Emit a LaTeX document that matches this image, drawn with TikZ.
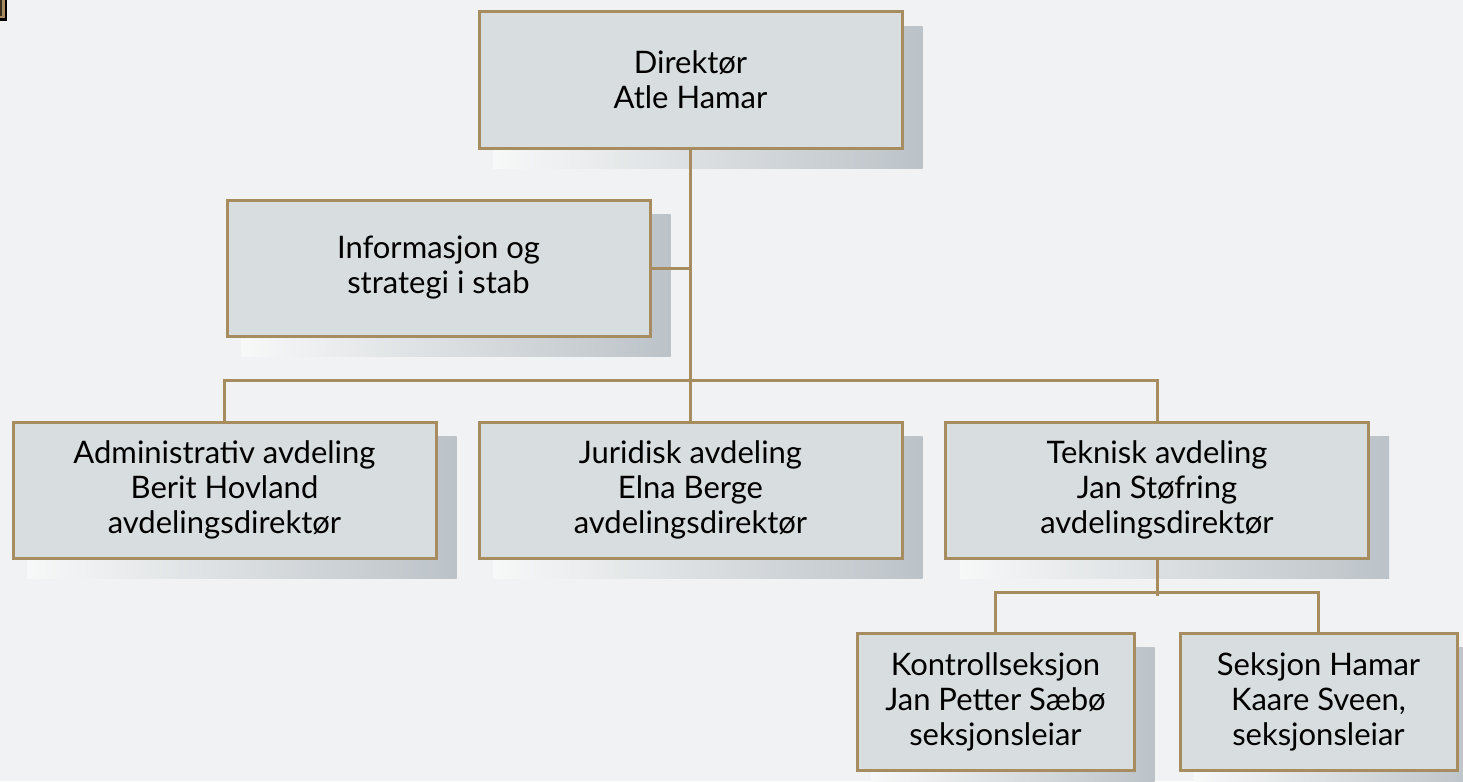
\documentclass[tikz,border=0pt]{standalone}
\usepackage{fontspec}
\setmainfont{Lato}
\usetikzlibrary{calc}
\definecolor{bg}{HTML}{F1F2F4}
\definecolor{boxfill}{HTML}{D8DDE0}
\definecolor{gold}{HTML}{A68C5F}
\definecolor{shadL}{HTML}{F7F8F8}
\definecolor{shadR}{HTML}{BCC3C8}
\definecolor{iconin}{HTML}{3A3020}
\tikzset{
  orgbox/.style={draw=gold, line width=3pt, fill=boxfill, minimum width=423pt, minimum height=136pt,
    align=center, inner sep=0pt, font=\fontsize{31}{35}\selectfont},
  subbox/.style={orgbox, minimum width=277pt, minimum height=137pt},
  link/.style={draw=gold, line width=3pt},
}
\newcommand{\boxshadow}[1]{%
  \shade[left color=shadL, right color=shadR]
    ($(#1.north west)+(16,16)$) rectangle ($(#1.south east)+(19,19)$);}
\begin{document}
\begin{tikzpicture}[x=1pt,y=-1pt]
\useasboundingbox (0,0) rectangle (1463,781);
\fill[bg] (0,0) rectangle (1463,781);
% corner fragment
\fill[black] (0,0) rectangle (6.5,21);
\fill[gold] (0,0) rectangle (4.7,18.3);
\fill[iconin] (0,0) rectangle (2.2,15.8);
% nodes (placed first for their names)
\path
  node[orgbox] (dir) at (690.5,80) {Direktør\\Atle Hamar}
  node[orgbox] (info) at (438.5,268) {Informasjon og\\strategi i stab}
  node[orgbox] (adm) at (224.5,490) {Administrativ avdeling\\Berit Hovland\\avdelingsdirektør}
  node[orgbox] (jur) at (690.5,490) {Juridisk avdeling\\Elna Berge\\avdelingsdirektør}
  node[orgbox] (tek) at (1157,490) {Teknisk avdeling\\Jan Støfring\\avdelingsdirektør}
  node[subbox] (kon) at (995.5,701.5) {Kontrollseksjon\\Jan Petter Sæbø\\seksjonsleiar}
  node[subbox] (sek) at (1318.5,701.5) {Seksjon Hamar\\Kaare Sveen,\\seksjonsleiar};
% shadows
\boxshadow{dir}\boxshadow{info}\boxshadow{adm}\boxshadow{jur}\boxshadow{tek}\boxshadow{kon}\boxshadow{sek}
% connectors
\draw[link] (dir.south) -- (jur.north);
\draw[link] (info.east) -- (info.east -| dir.south);
\draw[link] (adm.north) -- ++(0,-40) -| (tek.north);
\draw[link] (tek.south) -- ++(0,36);
\draw[link] (kon.north) -- ++(0,-39) -| (sek.north);
% boxes on top of shadows
\node[orgbox] at (dir) {Direktør\\Atle Hamar};
\node[orgbox] at (info) {Informasjon og\\strategi i stab};
\node[orgbox] at (adm) {Administrativ avdeling\\Berit Hovland\\avdelingsdirektør};
\node[orgbox] at (jur) {Juridisk avdeling\\Elna Berge\\avdelingsdirektør};
\node[orgbox] at (tek) {Teknisk avdeling\\Jan Støfring\\avdelingsdirektør};
\node[subbox] at (kon) {Kontrollseksjon\\Jan Petter Sæbø\\seksjonsleiar};
\node[subbox] at (sek) {Seksjon Hamar\\Kaare Sveen,\\seksjonsleiar};
\end{tikzpicture}
\end{document}
